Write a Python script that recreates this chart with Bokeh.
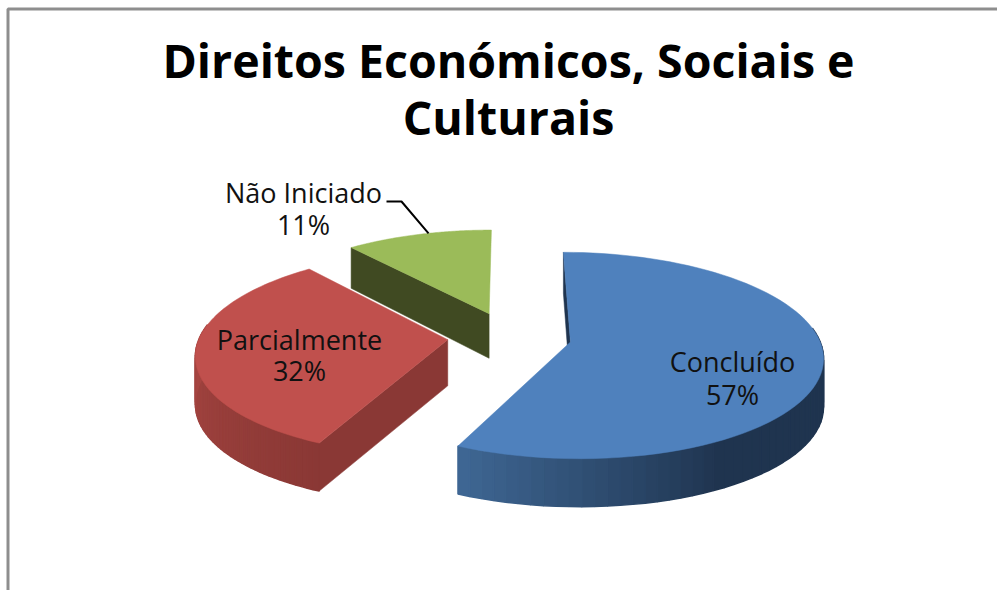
import math
from bokeh.plotting import figure
from bokeh.embed import file_html
from bokeh.resources import INLINE
from bokeh.core.properties import value

# data
title_lines = ["Direitos Económicos, Sociais e", "Culturais"]
categories = ["Concluído", "Parcialmente", "Não Iniciado"]
shares = [57, 32, 11]
top_colors = ["#4f81bd", "#c0504d", "#9bbb59"]
face_colors = ["#1f344f", "#8a3835", "#404a22"]

# 3-D pie projection
XC, YC, RX, RY, PERSP, EXPLODE, DEPTH = 509, 336, 248, 100, 0.13, 0.25, 48


def project(theta, offset_u, offset_v, radius=1.0, down=False):
    u = offset_u + radius * math.sin(theta)
    v = offset_v + radius * math.cos(theta)
    den = 1 + PERSP * v
    x = XC + RX * u / den
    y = YC - RY * v / den
    if down:
        y += min(DEPTH, 46 / den)
    return x, y


def lerp_color(a, b, t):
    ca = [int(a[i:i + 2], 16) for i in (1, 3, 5)]
    cb = [int(b[i:i + 2], 16) for i in (1, 3, 5)]
    t = max(0.0, min(1.0, t))
    return "#%02x%02x%02x" % tuple(round(p + (q - p) * t) for p, q in zip(ca, cb))


p = figure(width=997, height=590, x_range=(0, 997), y_range=(590, 0),
           output_backend="svg", toolbar_location=None, min_border=0,
           outline_line_color=None,
           background_fill_color="white", border_fill_color="white")
p.axis.visible = False
p.grid.visible = False

# slice geometry from the shares
total = sum(shares)
slices = []
cum = 0
for s in shares:
    start = 2 * math.pi * cum / total
    end = 2 * math.pi * (cum + s) / total
    mid = (start + end) / 2
    slices.append((start, end, EXPLODE * math.sin(mid), EXPLODE * math.cos(mid)))
    cum += s

N = 80
for idx in (2, 1, 0):
    start, end, ou, ov = slices[idx]
    arc = [start + (end - start) * i / N for i in range(N + 1)]

    # visible radial cut face
    ax, ay = project(start, ou, ov, 0)
    bx, by = project(start, ou, ov, 0, True)
    cx, cy = project(start, ou, ov, 1, True)
    dx, dy = project(start, ou, ov, 1)
    p.patch([ax, bx, cx, dx], [ay, by, cy, dy], fill_color=face_colors[idx],
            line_color=face_colors[idx], line_width=0.5)

    # curved wall with a shading ramp
    if idx != 2:
        for a, b in zip(arc[:-1], arc[1:]):
            mid = (a + b) / 2
            if math.cos(mid) > 0.15:
                continue
            deg = math.degrees(mid)
            if idx == 0:
                col = lerp_color("#1f344f", "#3f6794", (deg - 150) / 55)
            else:
                col = lerp_color("#8a3835", "#a64541", (deg - 205) / 65)
            x1, y1 = project(a, ou, ov)
            x2, y2 = project(b, ou, ov)
            x3, y3 = project(b, ou, ov, 1, True)
            x4, y4 = project(a, ou, ov, 1, True)
            p.patch([x1, x2, x3, x4], [y1, y2, y3, y4], fill_color=col,
                    line_color=col, line_width=1.5)

    # top surface
    xs, ys = [], []
    for th in arc:
        x, y = project(th, ou, ov)
        xs.append(x)
        ys.append(y)
    ax, ay = project(0, ou, ov, 0)
    xs.append(ax)
    ys.append(ay)
    p.patch(xs, ys, fill_color=top_colors[idx], line_color=top_colors[idx], line_width=0.5)

# leader line of the small slice
start, end, ou, ov = slices[2]
lx, ly = project(math.radians(343), ou, ov)
p.line([386, 401, lx], [201, 201, ly], line_color="black", line_width=2)

# frame
p.line([7.5, 7.5, 997], [590, 8.5, 8.5], line_color="#8e8e8e", line_width=3)

# title
for line, ty in zip(title_lines, (59, 116)):
    p.text([508], [ty], text=[line], text_font=value("Open Sans"), text_font_style="bold",
           text_font_size="46.5px", text_color="black", text_align="center",
           text_baseline="middle")

# data labels
label_pos = [(732, 361, 394), (299, 339, 370), (303, 192, 224)]
for cat, s, (tx, y1, y2) in zip(categories, shares, label_pos):
    for t, ty in ((cat, y1), (f"{s}%", y2)):
        p.text([tx], [ty], text=[t], text_font=value("Open Sans"),
               text_font_size="27px", text_color="#111111", text_align="center",
               text_baseline="middle")

open("out.html", "w").write(file_html(p, INLINE))
